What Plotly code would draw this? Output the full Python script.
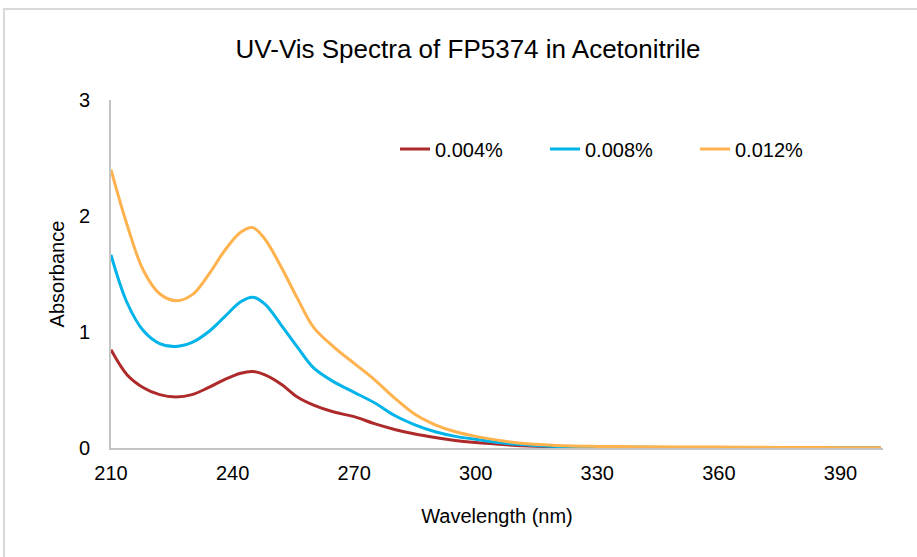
import plotly.graph_objects as go

wavelength = [210, 214, 218, 222, 226, 230, 234, 238, 242, 245, 248, 252, 256, 260,
              265, 270, 275, 280, 285, 290, 295, 300, 305, 310, 320, 330, 340, 350,
              360, 370, 380, 390, 400]

abs_0004 = [0.847, 0.63, 0.52, 0.46, 0.44, 0.46, 0.52, 0.59, 0.645, 0.66, 0.63, 0.55, 0.44, 0.37,
            0.31, 0.27, 0.21, 0.16, 0.12, 0.09, 0.065, 0.048, 0.035, 0.022, 0.010, 0.005, 0.004, 0.003,
            0.003, 0.002, 0.002, 0.001, 0.001]
abs_0008 = [1.665, 1.25, 1.01, 0.90, 0.875, 0.91, 1.00, 1.13, 1.26, 1.30, 1.24, 1.06, 0.87, 0.69,
            0.57, 0.48, 0.39, 0.28, 0.20, 0.14, 0.10, 0.075, 0.05, 0.032, 0.014, 0.008, 0.006, 0.005,
            0.005, 0.004, 0.003, 0.002, 0.002]
abs_0012 = [2.40, 1.92, 1.53, 1.33, 1.27, 1.32, 1.49, 1.70, 1.86, 1.90, 1.80, 1.56, 1.29, 1.04,
            0.87, 0.73, 0.59, 0.43, 0.29, 0.20, 0.14, 0.10, 0.07, 0.045, 0.022, 0.014, 0.011, 0.009,
            0.008, 0.006, 0.004, 0.003, 0.002]

series_names = ["0.004%", "0.008%", "0.012%"]
series_values = [abs_0004, abs_0008, abs_0012]
series_colors = ["#AE2A2A", "#00B3E8", "#FFB24E"]

x_ticks = [210, 240, 270, 300, 330, 360, 390]
y_ticks = [0, 1, 2, 3]

FONT = "Liberation Sans Narrow, Arial Narrow, Liberation Sans, Arial, sans-serif"

fig = go.Figure()
for name, vals, col in zip(series_names, series_values, series_colors):
    fig.add_trace(go.Scatter(
        x=wavelength, y=vals, name=name, mode="lines",
        line=dict(color=col, width=3, shape="spline", smoothing=1.0),
    ))

fig.update_layout(
    width=917, height=557,
    margin=dict(l=111, r=34, t=100, b=109, autoexpand=False),
    paper_bgcolor="white", plot_bgcolor="white",
    font=dict(family=FONT, size=20, color="#000000"),
    title=dict(text="UV-Vis Spectra of FP5374 in Acetonitrile",
               x=468/917, xanchor="center", xref="container",
               y=1 - 49/557, yanchor="middle", yref="container",
               font=dict(family=FONT, size=26, color="#000000")),
    showlegend=True,
    legend=dict(orientation="h", x=(395 - 111) / 772, y=(448 - 149) / 348,
                xanchor="left", yanchor="middle",
                font=dict(family=FONT, size=20, color="#000000"),
                bgcolor="rgba(0,0,0,0)", entrywidth=105, entrywidthmode="pixels",
                traceorder="normal", itemwidth=30),
    xaxis=dict(range=[210, 400.5], tickmode="array", tickvals=x_ticks,
               ticktext=[str(v) for v in x_ticks],
               showgrid=False, zeroline=False, showline=True, linecolor="#C4C4C4",
               linewidth=2, ticks="", ticklabelstandoff=6,
               title=dict(text="Wavelength (nm)", standoff=26,
                          font=dict(family=FONT, size=20))),
    yaxis=dict(range=[0, 3], tickmode="array", tickvals=y_ticks,
               ticktext=[str(v) for v in y_ticks],
               showgrid=False, zeroline=False, showline=True, linecolor="#C4C4C4",
               linewidth=2, ticks="", ticklabelstandoff=15,
               title=dict(text="Absorbance", standoff=9,
                          font=dict(family=FONT, size=20))),
    shapes=[dict(type="rect", xref="paper", yref="paper",
                 x0=(4 - 111) / 772, x1=1.2, y0=-0.6, y1=(448 - 9) / 348,
                 line=dict(color="#D9D9D9", width=2), fillcolor="rgba(0,0,0,0)",
                 layer="below")],
)

fig.write_html("out.html", config={"displayModeBar": False},
               post_script="document.body.style.margin='0';")
